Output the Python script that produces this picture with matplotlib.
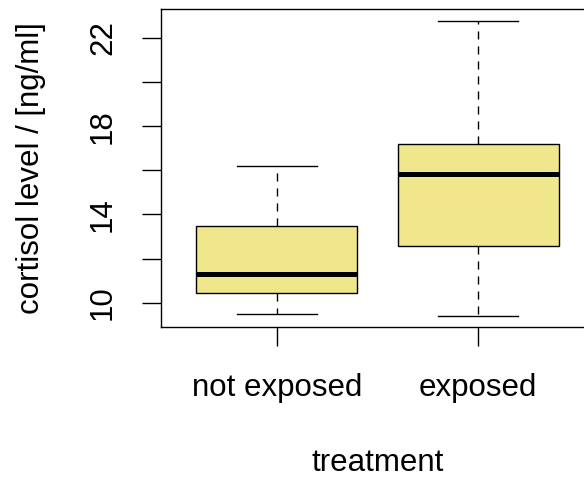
import matplotlib
matplotlib.use("Agg")
import matplotlib.pyplot as plt

# values
groups = ["not exposed", "exposed"]
whisker_low = [9.50, 9.41]
q1 = [10.43, 12.58]
median = [11.29, 15.85]
q3 = [13.49, 17.19]
whisker_high = [16.21, 22.78]

plt.rcParams["font.family"] = ["Liberation Sans", "DejaVu Sans"]
plt.rcParams["lines.scale_dashes"] = False

W, H = 584, 479
fig = plt.figure(figsize=(W / 100, H / 100), dpi=100)
# plot region runs a little past the right edge, like the original
ax = fig.add_axes([161 / W, 1 - 327 / H, 433 / W, 318 / H])

stats = []
for i, g in enumerate(groups):
    stats.append(dict(label=g, whislo=whisker_low[i], q1=q1[i], med=median[i],
                      q3=q3[i], whishi=whisker_high[i], fliers=[]))

lw = 1.0
fs = 22.5
ax.bxp(stats, positions=[1, 2], widths=0.8, patch_artist=True, showfliers=False,
       boxprops=dict(facecolor="#F0E68C", edgecolor="black", linewidth=lw),
       medianprops=dict(color="black", linewidth=3.6, solid_capstyle="butt"),
       whiskerprops=dict(color="black", linewidth=lw, linestyle=(0, (5.8, 5.0))),
       capprops=dict(color="black", linewidth=lw),
       capwidths=0.4)

ax.set_xlim(0.424, 2.576)
ax.set_ylim(8.90, 23.31)

ax.set_yticks([10, 12, 14, 16, 18, 20, 22])
ax.set_yticklabels(["10", "", "14", "", "18", "", "22"], rotation=90, va="center")
ax.set_xticks([1, 2])
ax.set_xticklabels(groups)

for s in ax.spines.values():
    s.set_linewidth(lw)
ax.tick_params(axis="both", length=14, width=lw, labelsize=fs, direction="out")
ax.tick_params(axis="y", pad=17)
ax.tick_params(axis="x", pad=19)

fig.text(31 / W, 1 - 168 / H, "cortisol level / [ng/ml]", rotation=90,
         ha="center", va="center", fontsize=fs)
fig.text(378 / W, 1 - 463 / H, "treatment", ha="center", va="center", fontsize=fs)

fig.savefig("out.png", dpi=100)
